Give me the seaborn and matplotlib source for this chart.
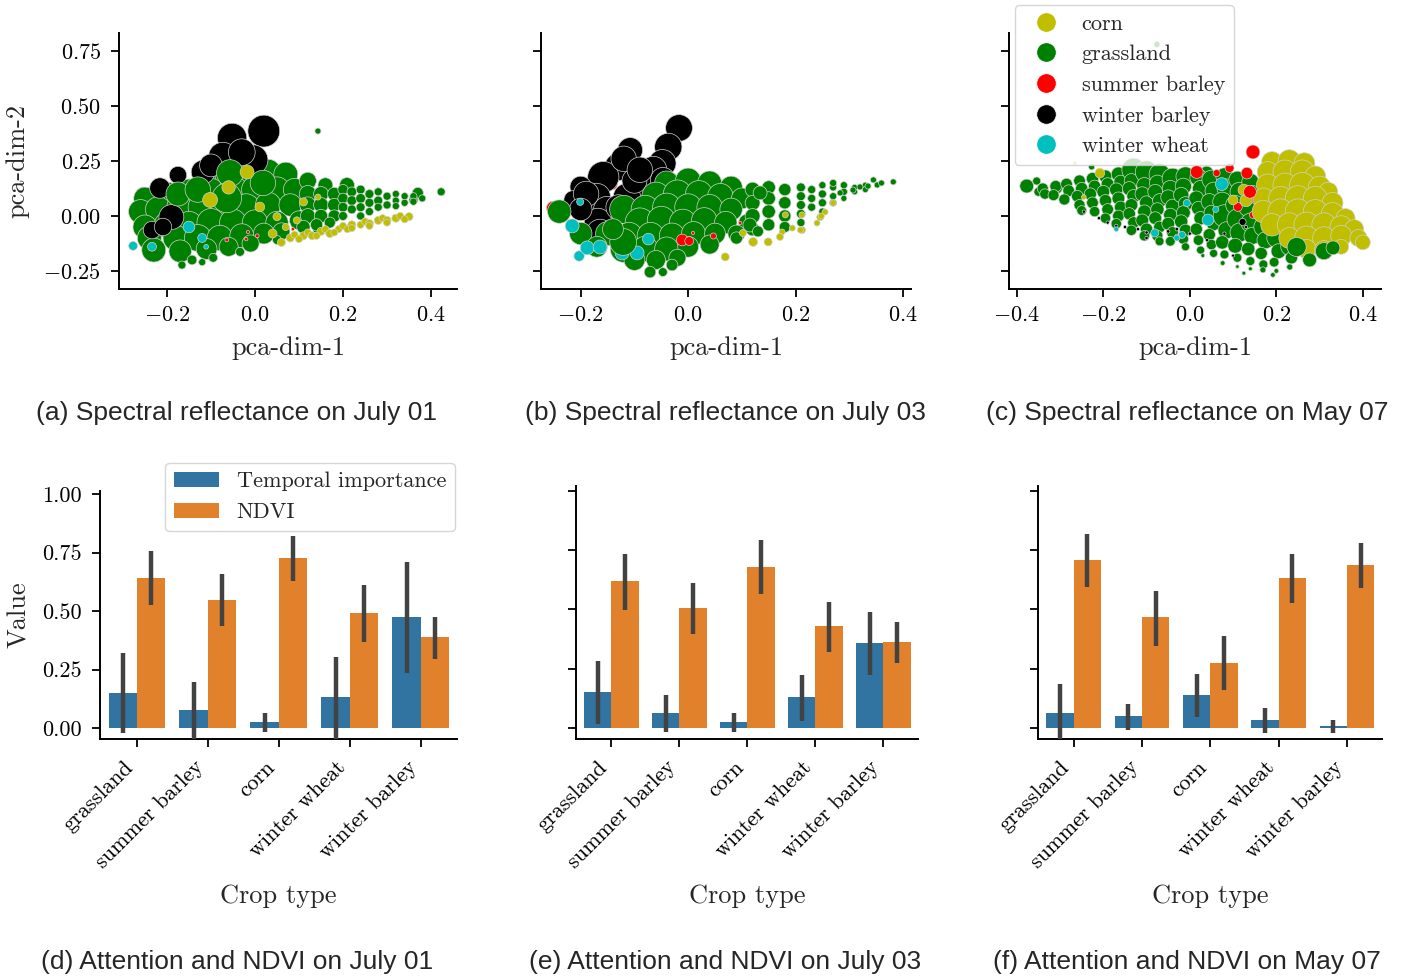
import matplotlib
matplotlib.use("Agg")
import matplotlib.pyplot as plt
import seaborn as sns
import pandas as pd
from matplotlib.lines import Line2D
from matplotlib.patches import Patch

# ---------------- data ----------------
crop_order = ["corn", "grassland", "summer barley", "winter barley", "winter wheat"]
crop_colors = ["#bfbf00", "#008000", "#ff0000", "#000000", "#00bfbf"]

# scatter points: (pca-dim-1, pca-dim-2, attention weight)
a_red_back = [(-0.254, 0.10, 0.13)]
a_grass = [(-0.10, 0.17, 0.45), (-0.06, 0.18, 0.5), (-0.02, 0.19, 0.5), (0.03, 0.20, 0.45), (0.07, 0.19, 0.4),
           (-0.25, 0.08, 0.35), (-0.20, 0.10, 0.4), (-0.15, 0.11, 0.45), (-0.10, 0.11, 0.5), (-0.05, 0.12, 0.55),
           (0.0, 0.12, 0.5), (0.05, 0.12, 0.45), (0.09, 0.12, 0.35),
           (-0.26, 0.02, 0.4), (-0.22, 0.03, 0.45), (-0.17, 0.04, 0.5), (-0.12, 0.04, 0.55), (-0.07, 0.04, 0.55),
           (-0.02, 0.04, 0.5), (0.03, 0.05, 0.45), (0.08, 0.05, 0.35),
           (-0.25, -0.05, 0.4), (-0.20, -0.04, 0.45), (-0.15, -0.04, 0.5), (-0.10, -0.03, 0.55),
           (-0.05, -0.03, 0.5), (0.0, -0.03, 0.45), (0.05, -0.03, 0.35), (0.10, -0.02, 0.25),
           (-0.24, -0.10, 0.4), (-0.18, -0.10, 0.45), (-0.13, -0.10, 0.5), (-0.08, -0.10, 0.45),
           (-0.03, -0.09, 0.4), (0.02, -0.08, 0.3), (0.06, -0.07, 0.2),
           (-0.23, -0.155, 0.4), (-0.17, -0.16, 0.35), (-0.11, -0.15, 0.3), (-0.06, -0.14, 0.25), (-0.01, -0.125, 0.2),
           (-0.166, -0.223, 0.04), (-0.143, -0.20, 0.06), (-0.095, -0.19, 0.05), (-0.034, -0.163, 0.05),
           (0.05, -0.109, 0.05), (0.14, -0.064, 0.03), (-0.12, -0.21, 0.03), (0.143, 0.386, 0.02),
           (0.209, 0.141, 0.15), (0.37, 0.105, 0.08), (0.423, 0.11, 0.04), (0.36, 0.073, 0.05),
           (0.12, 0.16, 0.2), (0.16, 0.14, 0.15), (0.12, 0.10, 0.2), (0.15, 0.10, 0.15), (0.18, 0.10, 0.12),
           (0.12, 0.05, 0.18), (0.15, 0.05, 0.15), (0.18, 0.05, 0.12), (0.12, 0.0, 0.15), (0.15, 0.0, 0.12),
           (0.18, 0.0, 0.1), (0.11, -0.05, 0.12), (0.14, -0.04, 0.1), (0.17, -0.03, 0.08),
           (0.20, 0.12, 0.07), (0.20, 0.08, 0.07), (0.20, 0.04, 0.06), (0.20, 0.0, 0.05), (0.22, 0.11, 0.06),
           (0.22, 0.07, 0.06), (0.22, 0.03, 0.05), (0.24, 0.12, 0.05), (0.24, 0.08, 0.06), (0.24, 0.04, 0.05),
           (0.24, 0.0, 0.04), (0.26, 0.10, 0.05), (0.26, 0.06, 0.05), (0.26, 0.02, 0.04), (0.28, 0.11, 0.04),
           (0.28, 0.07, 0.05), (0.28, 0.04, 0.04), (0.30, 0.09, 0.04), (0.30, 0.05, 0.04),
           (0.32, 0.10, 0.03), (0.32, 0.07, 0.03), (0.32, 0.045, 0.03), (0.34, 0.09, 0.03), (0.34, 0.06, 0.03),
           (0.36, 0.09, 0.03), (0.36, 0.065, 0.03), (0.38, 0.08, 0.03)]
a_black = [(0.02, 0.386, 0.71), (-0.052, 0.355, 0.6), (-0.073, 0.27, 0.57), (-0.005, 0.255, 0.64),
           (-0.118, 0.20, 0.39), (-0.175, 0.186, 0.21), (-0.216, 0.127, 0.29), (-0.19, -0.005, 0.43),
           (-0.234, -0.064, 0.21), (-0.209, -0.05, 0.21), (-0.03, 0.29, 0.5), (-0.10, 0.23, 0.36)]
a_grass_front = [(-0.057, 0.195, 0.5), (0.018, 0.15, 0.45), (-0.064, 0.082, 0.61), (-0.175, 0.10, 0.4),
                 (-0.13, 0.12, 0.45)]
a_corn = [(0.06, -0.12, 0.04), (0.08, -0.10, 0.04), (0.09, -0.085, 0.03), (0.11, -0.09, 0.04),
          (0.12, -0.075, 0.03), (0.13, -0.09, 0.04), (0.15, -0.07, 0.04), (0.16, -0.06, 0.03),
          (0.17, -0.08, 0.04), (0.19, -0.06, 0.03), (0.20, -0.045, 0.03), (0.21, -0.06, 0.03),
          (0.22, -0.04, 0.04), (0.24, -0.04, 0.03), (0.25, -0.025, 0.03), (0.26, -0.035, 0.04),
          (0.28, -0.02, 0.04), (0.29, -0.01, 0.03), (0.30, -0.02, 0.04), (0.32, -0.01, 0.04),
          (0.33, 0.0, 0.03), (0.35, -0.003, 0.04), (0.05, -0.003, 0.04), (0.095, -0.02, 0.03),
          (0.10, -0.105, 0.03), (0.14, -0.09, 0.03), (0.18, -0.075, 0.03), (0.22, -0.055, 0.03),
          (0.26, -0.045, 0.03), (0.30, -0.03, 0.03), (0.34, -0.015, 0.03),
          (-0.018, 0.20, 0.13), (-0.102, 0.073, 0.15), (-0.06, 0.13, 0.12), (0.011, 0.041, 0.06),
          (0.11, 0.064, 0.04), (0.143, 0.086, 0.02), (0.07, -0.05, 0.03), (0.04, -0.08, 0.05)]
a_red = [(-0.064, -0.109, 0.005), (-0.02, -0.105, 0.003), (0.005, -0.09, 0.005),
         (0.086, -0.06, 0.002), (-0.016, -0.073, 0.002)]
a_cyan = [(-0.277, -0.136, 0.05), (-0.15, -0.05, 0.09), (-0.12, -0.10, 0.05),
          (-0.111, -0.14, 0.01), (-0.234, -0.14, 0.05)]

b_red_back = [(-0.251, 0.036, 0.13), (-0.141, 0.141, 0.06), (-0.061, -0.155, 0.06)]
b_black = [(-0.017, 0.40, 0.5), (-0.037, 0.314, 0.52), (-0.048, 0.24, 0.52), (-0.108, 0.30, 0.43),
           (-0.13, 0.223, 0.52), (-0.158, 0.177, 0.68), (-0.20, 0.132, 0.32), (-0.214, 0.073, 0.24),
           (-0.17, 0.086, 0.52), (-0.151, 0.027, 0.52), (-0.168, -0.027, 0.52), (-0.164, -0.077, 0.52),
           (-0.065, 0.209, 0.52), (-0.077, 0.132, 0.43), (-0.114, 0.086, 0.52), (-0.047, 0.164, 0.43),
           (-0.10, 0.16, 0.43), (-0.13, 0.04, 0.43), (-0.19, 0.10, 0.45), (-0.12, 0.26, 0.45),
           (-0.09, 0.21, 0.45), (-0.20, 0.03, 0.35)]
b_corn_mid = [(0.017, 0.055, 0.12), (-0.034, -0.036, 0.12), (-0.089, 0.055, 0.09),
              (-0.03, 0.173, 0.06), (0.08, 0.08, 0.08)]
b_grass = [(-0.04, 0.15, 0.4), (0.0, 0.16, 0.45), (0.04, 0.15, 0.4), (0.08, 0.13, 0.35),
           (-0.06, 0.09, 0.55), (-0.02, 0.10, 0.55), (0.02, 0.10, 0.5), (0.06, 0.09, 0.45), (0.10, 0.08, 0.3),
           (-0.24, 0.02, 0.38), (-0.12, 0.03, 0.55), (-0.08, 0.03, 0.55), (-0.04, 0.04, 0.55), (0.0, 0.04, 0.5),
           (0.04, 0.04, 0.45), (0.08, 0.03, 0.35),
           (-0.09, -0.03, 0.6), (-0.05, -0.02, 0.55), (-0.01, -0.03, 0.5), (0.03, -0.02, 0.45),
           (0.07, -0.03, 0.35), (0.11, -0.03, 0.2),
           (-0.20, -0.08, 0.35), (-0.15, -0.08, 0.4), (-0.11, -0.09, 0.5), (-0.07, -0.09, 0.5),
           (-0.03, -0.09, 0.45), (0.01, -0.08, 0.4), (0.05, -0.08, 0.3), (0.09, -0.08, 0.2),
           (-0.17, -0.14, 0.3), (-0.12, -0.15, 0.5), (-0.08, -0.15, 0.45), (-0.04, -0.15, 0.4),
           (0.0, -0.14, 0.3), (0.04, -0.13, 0.25),
           (-0.10, -0.20, 0.3), (-0.06, -0.20, 0.25), (-0.02, -0.19, 0.2),
           (-0.071, -0.255, 0.09), (-0.047, -0.255, 0.05), (-0.03, -0.223, 0.09),
           (0.12, 0.12, 0.15), (0.12, 0.06, 0.15), (0.12, 0.0, 0.15), (0.12, -0.06, 0.12),
           (0.15, 0.13, 0.12), (0.15, 0.08, 0.12), (0.15, 0.02, 0.12), (0.15, -0.04, 0.1),
           (0.18, 0.12, 0.1), (0.18, 0.06, 0.1), (0.18, 0.0, 0.1), (0.18, -0.05, 0.08),
           (0.134, 0.105, 0.13), (0.115, -0.041, 0.13), (0.09, -0.10, 0.1), (0.13, -0.07, 0.08),
           (0.21, 0.13, 0.05), (0.21, 0.09, 0.05), (0.21, 0.05, 0.05), (0.21, 0.01, 0.05), (0.21, -0.03, 0.04),
           (0.23, 0.12, 0.04), (0.23, 0.08, 0.04), (0.23, 0.04, 0.04), (0.25, 0.14, 0.03), (0.25, 0.10, 0.04),
           (0.25, 0.06, 0.04), (0.25, 0.02, 0.03), (0.27, 0.13, 0.03), (0.27, 0.09, 0.03), (0.27, 0.06, 0.03),
           (0.29, 0.14, 0.03), (0.29, 0.11, 0.03), (0.29, 0.08, 0.02), (0.31, 0.13, 0.02), (0.31, 0.11, 0.02),
           (0.33, 0.14, 0.02), (0.33, 0.12, 0.02),
           (0.382, 0.155, 0.02), (0.345, 0.164, 0.02), (0.352, 0.141, 0.02), (0.335, 0.136, 0.02),
           (0.32, 0.132, 0.02), (0.307, 0.118, 0.02), (0.283, 0.105, 0.02), (0.27, 0.15, 0.03),
           (0.36, 0.15, 0.02)]
b_cyan = [(-0.216, -0.045, 0.13), (-0.203, -0.182, 0.07), (-0.188, -0.145, 0.13),
          (-0.164, -0.141, 0.13), (-0.123, -0.168, 0.13), (-0.095, -0.168, 0.13), (-0.201, 0.064, 0.03),
          (-0.074, -0.105, 0.09)]
b_corn = [(0.27, 0.059, 0.02), (0.255, 0.018, 0.02), (0.246, -0.005, 0.03), (0.24, -0.032, 0.02),
          (0.212, -0.064, 0.03), (0.194, -0.055, 0.02), (0.175, -0.073, 0.02), (0.171, -0.095, 0.03),
          (0.149, -0.118, 0.04), (0.121, -0.118, 0.05), (0.102, -0.077, 0.03), (0.212, 0.005, 0.02),
          (0.181, 0.005, 0.02), (0.069, -0.186, 0.04), (0.248, 0.0, 0.02), (0.209, -0.064, 0.02)]
b_red = [(-0.011, -0.109, 0.09), (0.002, -0.114, 0.05), (0.047, -0.091, 0.02),
         (0.097, -0.032, 0.002), (0.009, -0.077, 0.002)]
b_grass_front = [(-0.121, -0.118, 0.5), (-0.14, -0.06, 0.3)]

c_faint = [(-0.076, 0.78, 0.02)]
c_grass = [(-0.377, 0.136, 0.13), (-0.354, 0.159, 0.04), (-0.35, 0.11, 0.05), (-0.308, 0.127, 0.09),
           (-0.227, 0.223, 0.02), (0.039, 0.195, 0.13),
           (-0.34, 0.125, 0.08), (-0.335, 0.10, 0.07), (-0.31, 0.135, 0.09), (-0.315, 0.095, 0.08),
           (-0.285, 0.145, 0.09), (-0.28, 0.115, 0.09), (-0.29, 0.075, 0.08),
           (-0.255, 0.16, 0.09), (-0.25, 0.125, 0.1), (-0.26, 0.09, 0.09), (-0.255, 0.05, 0.08), (-0.25, 0.025, 0.06),
           (-0.225, 0.17, 0.1), (-0.22, 0.135, 0.1), (-0.23, 0.10, 0.1), (-0.225, 0.06, 0.09), (-0.22, 0.02, 0.07),
           (-0.195, 0.18, 0.11), (-0.19, 0.145, 0.11), (-0.20, 0.11, 0.11), (-0.195, 0.07, 0.1),
           (-0.19, 0.03, 0.09), (-0.195, -0.01, 0.07),
           (-0.165, 0.19, 0.14), (-0.16, 0.155, 0.12), (-0.17, 0.12, 0.12), (-0.165, 0.08, 0.11),
           (-0.16, 0.04, 0.1), (-0.165, 0.0, 0.09), (-0.17, -0.035, 0.07),
           (-0.13, 0.21, 0.38), (-0.135, 0.16, 0.14), (-0.14, 0.125, 0.13), (-0.13, 0.09, 0.12),
           (-0.135, 0.05, 0.11), (-0.14, 0.01, 0.1), (-0.13, -0.03, 0.09), (-0.135, -0.065, 0.07),
           (-0.10, 0.20, 0.35), (-0.105, 0.14, 0.16), (-0.11, 0.10, 0.14), (-0.10, 0.06, 0.13),
           (-0.105, 0.02, 0.12), (-0.11, -0.02, 0.11), (-0.10, -0.06, 0.1), (-0.105, -0.09, 0.07),
           (-0.07, 0.19, 0.3), (-0.075, 0.15, 0.17), (-0.08, 0.11, 0.15), (-0.07, 0.07, 0.13),
           (-0.075, 0.03, 0.12), (-0.08, -0.01, 0.11), (-0.07, -0.05, 0.09), (-0.075, -0.09, 0.08),
           (-0.07, -0.115, 0.05),
           (-0.04, 0.17, 0.3), (-0.045, 0.125, 0.18), (-0.05, 0.085, 0.15), (-0.04, 0.045, 0.13),
           (-0.045, 0.005, 0.12), (-0.05, -0.035, 0.11), (-0.04, -0.075, 0.09), (-0.045, -0.115, 0.06),
           (-0.01, 0.18, 0.25), (-0.015, 0.135, 0.18), (-0.02, 0.095, 0.16), (-0.01, 0.055, 0.14),
           (-0.015, 0.015, 0.13), (-0.02, -0.025, 0.12), (-0.01, -0.065, 0.1), (-0.015, -0.105, 0.07),
           (-0.01, -0.14, 0.04),
           (0.02, 0.175, 0.2), (0.025, 0.125, 0.18), (0.015, 0.08, 0.15), (0.02, 0.035, 0.13),
           (0.025, -0.01, 0.12), (0.015, -0.06, 0.1), (0.02, -0.11, 0.07), (0.025, -0.155, 0.04),
           (0.05, 0.165, 0.25), (0.055, 0.115, 0.2), (0.045, 0.065, 0.18), (0.05, 0.015, 0.15),
           (0.055, -0.035, 0.13), (0.045, -0.085, 0.1), (0.05, -0.13, 0.07), (0.055, -0.17, 0.04),
           (0.08, 0.18, 0.2), (0.085, 0.125, 0.25), (0.075, 0.065, 0.25), (0.08, 0.0, 0.35),
           (0.085, -0.065, 0.2), (0.075, -0.12, 0.12), (0.08, -0.175, 0.05),
           (0.11, 0.165, 0.2), (0.115, 0.11, 0.25), (0.105, 0.05, 0.25), (0.11, -0.015, 0.3),
           (0.115, -0.075, 0.25), (0.105, -0.135, 0.15), (0.11, -0.19, 0.05),
           (0.14, 0.155, 0.2), (0.145, 0.10, 0.2), (0.135, 0.04, 0.25), (0.14, -0.03, 0.25),
           (0.145, -0.09, 0.2), (0.135, -0.15, 0.12), (0.14, -0.205, 0.05),
           (0.17, -0.05, 0.25), (0.175, -0.11, 0.2), (0.165, -0.17, 0.1), (0.17, -0.22, 0.05),
           (0.20, -0.10, 0.25), (0.205, -0.16, 0.15), (0.195, -0.21, 0.06),
           (0.23, -0.14, 0.2), (0.235, -0.19, 0.1), (0.27, -0.17, 0.1),
           (0.076, -0.214, 0.01), (0.169, -0.245, 0.02), (0.192, -0.268, 0.01), (0.231, -0.232, 0.02),
           (0.03, -0.18, 0.005), (0.11, -0.23, 0.003), (0.14, -0.24, 0.005), (0.20, -0.25, 0.01),
           (0.125, -0.26, 0.005), (0.30, -0.12, 0.2), (0.35, -0.11, 0.15)]
c_black = [(0.122, -0.027, 0.03), (-0.245, 0.02, 0.002), (-0.21, -0.01, 0.002), (-0.19, -0.03, 0.002),
           (-0.17, -0.045, 0.002), (-0.15, -0.05, 0.002), (-0.12, -0.06, 0.002), (-0.10, -0.075, 0.002),
           (-0.08, -0.07, 0.003), (-0.05, -0.07, 0.003), (-0.03, -0.06, 0.003), (0.0, -0.08, 0.002),
           (0.04, -0.11, 0.002), (0.08, -0.08, 0.002), (0.10, -0.18, 0.001), (0.13, -0.05, 0.002),
           (-0.10, -0.10, 0.002), (-0.03, -0.09, 0.002)]
c_cyan = [(0.074, 0.145, 0.11), (0.042, -0.018, 0.09), (-0.007, 0.059, 0.03), (-0.081, -0.077, 0.04),
          (-0.018, -0.086, 0.03), (-0.17, -0.06, 0.01), (0.06, 0.03, 0.02), (0.16, 0.10, 0.02),
          (-0.03, -0.10, 0.02)]
c_red_back = [(0.215, 0.073, 0.13), (0.092, 0.218, 0.05), (0.111, 0.041, 0.05),
              (0.146, 0.005, 0.03), (0.155, 0.073, 0.07), (0.062, 0.195, 0.03)]
c_corn = [(0.19, 0.245, 0.3), (0.23, 0.25, 0.35), (0.265, 0.24, 0.3),
          (0.18, 0.20, 0.3), (0.22, 0.20, 0.4), (0.26, 0.20, 0.4), (0.29, 0.18, 0.3),
          (0.18, 0.14, 0.35), (0.22, 0.14, 0.4), (0.26, 0.14, 0.45), (0.30, 0.13, 0.35), (0.32, 0.11, 0.25),
          (0.17, 0.08, 0.3), (0.21, 0.08, 0.4), (0.25, 0.08, 0.45), (0.29, 0.08, 0.4), (0.33, 0.06, 0.3),
          (0.17, 0.02, 0.35), (0.21, 0.02, 0.45), (0.25, 0.02, 0.45), (0.29, 0.02, 0.4),
          (0.33, 0.01, 0.35), (0.36, -0.01, 0.25),
          (0.19, -0.04, 0.35), (0.23, -0.04, 0.4), (0.27, -0.04, 0.45), (0.31, -0.04, 0.4),
          (0.35, -0.05, 0.35), (0.38, -0.06, 0.25),
          (0.23, -0.10, 0.3), (0.27, -0.10, 0.4), (0.31, -0.10, 0.35), (0.35, -0.09, 0.3),
          (0.39, -0.10, 0.2), (0.40, -0.12, 0.15),
          (0.27, -0.15, 0.25), (0.31, -0.155, 0.25), (0.35, -0.14, 0.15),
          (-0.208, 0.195, 0.06), (-0.266, 0.24, 0.003), (-0.245, 0.086, 0.01),
          (0.125, 0.118, 0.09), (0.10, 0.073, 0.06), (0.13, 0.07, 0.1)]
c_red = [(0.146, 0.291, 0.13), (0.016, 0.20, 0.11), (0.132, 0.195, 0.09), (0.139, 0.11, 0.11)]
c_grass_front = [(0.247, -0.141, 0.25), (0.31, -0.16, 0.2), (0.277, -0.20, 0.13), (0.331, -0.145, 0.13)]

# bar data: (d) July 01, (e) July 03, (f) May 07
bar_cats = ["grassland", "summer barley", "corn", "winter wheat", "winter barley"]
bar_kinds = ["Temporal importance", "NDVI"]
d_ti = [0.149, 0.076, 0.024, 0.131, 0.474]
d_ti_lo = [-0.02, -0.07, -0.017, -0.06, 0.236]
d_ti_hi = [0.319, 0.197, 0.066, 0.303, 0.711]
d_nd = [0.641, 0.547, 0.727, 0.491, 0.389]
d_nd_lo = [0.526, 0.437, 0.629, 0.369, 0.297]
d_nd_hi = [0.757, 0.659, 0.819, 0.610, 0.476]
e_ti = [0.150, 0.062, 0.024, 0.129, 0.357]
e_ti_lo = [0.018, -0.017, -0.017, 0.028, 0.225]
e_ti_hi = [0.281, 0.139, 0.063, 0.225, 0.487]
e_nd = [0.619, 0.505, 0.678, 0.429, 0.361]
e_nd_lo = [0.498, 0.397, 0.565, 0.321, 0.274]
e_nd_hi = [0.734, 0.613, 0.792, 0.530, 0.446]
f_ti = [0.062, 0.049, 0.138, 0.032, 0.006]
f_ti_lo = [-0.06, -0.01, 0.046, -0.02, -0.02]
f_ti_hi = [0.187, 0.101, 0.228, 0.082, 0.034]
f_nd = [0.707, 0.467, 0.273, 0.632, 0.686]
f_nd_lo = [0.594, 0.347, 0.160, 0.527, 0.591]
f_nd_hi = [0.816, 0.579, 0.387, 0.734, 0.779]

captions = ["(a) Spectral reflectance on July 01", "(b) Spectral reflectance on July 03",
            "(c) Spectral reflectance on May 07", "(d) Attention and NDVI on July 01",
            "(e) Attention and NDVI on July 03", "(f) Attention and NDVI on May 07"]

# ---------------- style ----------------
sns.set_style("ticks")
plt.rcParams.update({
    "font.family": ["cmr10", "DejaVu Serif"],
    "mathtext.fontset": "cm",
    "axes.formatter.use_mathtext": True,
    "axes.linewidth": 1.4,
    "xtick.major.width": 1.3, "ytick.major.width": 1.3,
    "xtick.major.size": 6, "ytick.major.size": 6,
    "xtick.major.pad": 6, "ytick.major.pad": 7,
    "xtick.labelsize": 16, "ytick.labelsize": 16,
    "axes.labelsize": 19,
    "xtick.color": "black", "ytick.color": "black",
    "axes.edgecolor": "black",
})

W, H = 1413, 980
fig = plt.figure(figsize=(W / 100, H / 100), dpi=100)


def px_axes(l, r, t, b):
    return fig.add_axes([l / W, 1 - b / H, (r - l) / W, (b - t) / H])


pal = dict(zip(crop_order, crop_colors))


def scatter_panel(ax, layers):
    rows = []
    for crop, pts in layers:
        for x, y, w in pts:
            rows.append({"x": x, "y": y, "w": w, "crop": crop})
    df = pd.DataFrame(rows)
    sns.scatterplot(data=df, x="x", y="y", hue="crop", size="w", sizes=(4, 740),
                    size_norm=(0, 1), palette=pal, edgecolor="0.82", linewidth=0.5,
                    legend=False, ax=ax)


axa = px_axes(119, 457, 33, 289)
axb = px_axes(541, 911, 33, 289)
axc = px_axes(1009, 1381, 33, 289)

scatter_panel(axa, [("summer barley", a_red_back), ("grassland", a_grass), ("winter barley", a_black),
                    ("grassland", a_grass_front), ("corn", a_corn), ("summer barley", a_red),
                    ("winter wheat", a_cyan)])
scatter_panel(axb, [("summer barley", b_red_back), ("winter barley", b_black),
                    ("corn", b_corn_mid), ("grassland", b_grass), ("winter wheat", b_cyan),
                    ("grassland", b_grass_front), ("corn", b_corn), ("summer barley", b_red)])
scatter_panel(axc, [("grassland", c_faint), ("grassland", c_grass), ("winter barley", c_black),
                    ("winter wheat", c_cyan), ("summer barley", c_red_back), ("corn", c_corn),
                    ("summer barley", c_red), ("grassland", c_grass_front)])

yt = [-0.25, 0.0, 0.25, 0.5, 0.75]
for ax, xl, xt in [(axa, (-0.309, 0.459), [-0.2, 0.0, 0.2, 0.4]),
                   (axb, (-0.274, 0.415), [-0.2, 0.0, 0.2, 0.4]),
                   (axc, (-0.418, 0.442), [-0.4, -0.2, 0.0, 0.2, 0.4])]:
    ax.set_xlim(*xl)
    ax.set_ylim(-0.332, 0.832)
    ax.set_xticks(xt)
    ax.set_yticks(yt)
    ax.set_xlabel("pca-dim-1", labelpad=8)
    ax.set_ylabel("")
    sns.despine(ax=ax)
axa.set_ylabel("pca-dim-2", labelpad=10)
axb.set_yticklabels([])
axc.set_yticklabels([])

handles = [Line2D([], [], marker="o", linestyle="", markersize=14, color=c, markeredgecolor="w",
                  markeredgewidth=0.5) for c in crop_colors]
axc.legend(handles, crop_order, loc="upper left", bbox_to_anchor=(0.016, 1.109), borderaxespad=0,
           fontsize=16, frameon=True, handletextpad=0.6, labelspacing=0.5)

# ---------------- bars ----------------
axd = px_axes(100, 457, 491, 739)
axe = px_axes(576, 918, 486, 739)
axf = px_axes(1038, 1382, 486, 739)
bar_colors = ["#3274a1", "#e1812c"]

for ax, ti, til, tih, nd, ndl, ndh, ylim in [
        (axd, d_ti, d_ti_lo, d_ti_hi, d_nd, d_nd_lo, d_nd_hi, (-0.047, 1.013)),
        (axe, e_ti, e_ti_lo, e_ti_hi, e_nd, e_nd_lo, e_nd_hi, (-0.047, 1.02)),
        (axf, f_ti, f_ti_lo, f_ti_hi, f_nd, f_nd_lo, f_nd_hi, (-0.047, 1.02))]:
    df = pd.DataFrame({"Crop type": bar_cats * 2, "Value": ti + nd,
                       "kind": [bar_kinds[0]] * 5 + [bar_kinds[1]] * 5})
    sns.barplot(data=df, x="Crop type", y="Value", hue="kind", hue_order=bar_kinds,
                palette=bar_colors, saturation=1, errorbar=None, legend=False,
                linewidth=0, ax=ax)
    for cont, lo, hi in zip(ax.containers, [til, ndl], [tih, ndh]):
        xs = [bar.get_x() + bar.get_width() / 2 for bar in cont]
        ax.vlines(xs, lo, hi, color="#424242", linewidth=3.2, zorder=3)
    ax.set_xlim(-0.52, 4.51)
    ax.set_ylim(*ylim)
    ax.set_yticks([0, 0.25, 0.5, 0.75, 1.0])
    ax.set_yticklabels(["0.00", "0.25", "0.50", "0.75", "1.00"])
    ax.tick_params(axis="x", pad=7)
    plt.setp(ax.get_xticklabels(), rotation=45, ha="right", rotation_mode="default")
    ax.set_xlabel("Crop type", labelpad=9)
    ax.set_ylabel("")
    sns.despine(ax=ax)
axd.set_ylabel("Value", labelpad=8)
axe.set_yticklabels([])
axf.set_yticklabels([])
bh = [Patch(facecolor=c, edgecolor="none") for c in bar_colors]
axd.legend(bh, bar_kinds, loc="upper right", bbox_to_anchor=(0.994, 1.113), borderaxespad=0,
           fontsize=16, frameon=True, handletextpad=0.8, labelspacing=0.5)

# ---------------- captions ----------------
cx = [237, 725, 1187]
for i, cap in enumerate(captions):
    y = 413 if i < 3 else 962
    fig.text(cx[i % 3] / W, 1 - y / H, cap, ha="center", va="center", fontsize=19,
             family=["Liberation Sans", "DejaVu Sans"])

fig.savefig("out.png", dpi=100)
